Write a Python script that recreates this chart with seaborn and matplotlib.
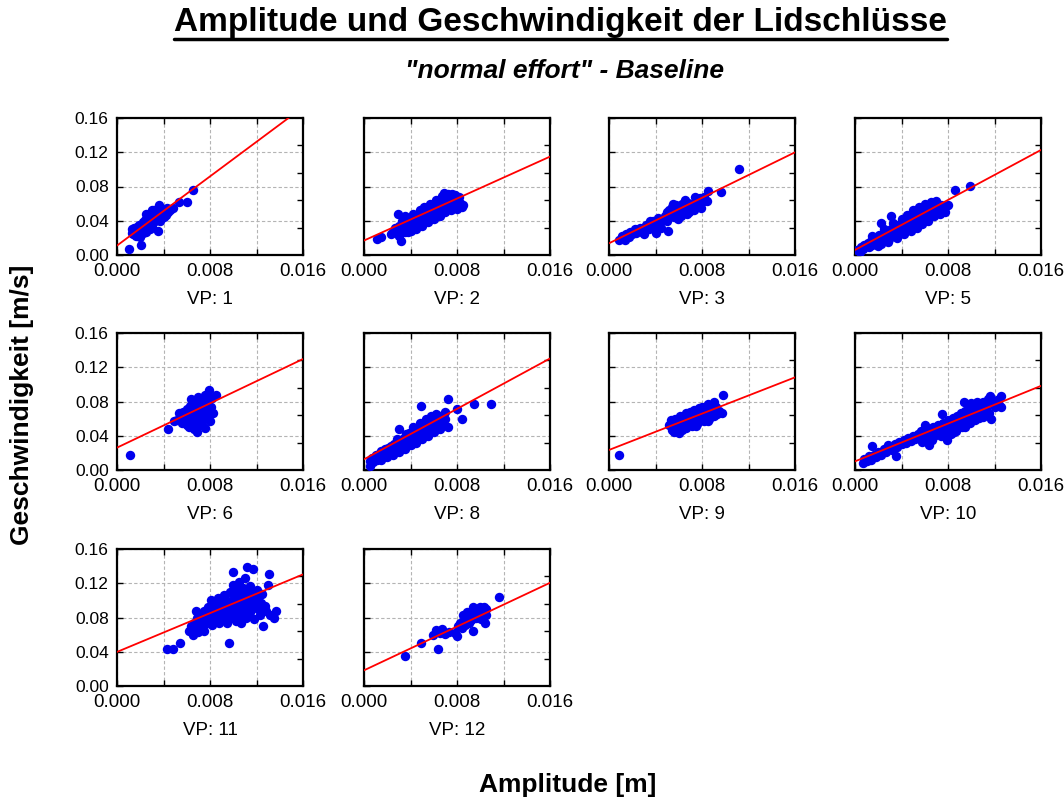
import numpy as np
import pandas as pd
import matplotlib
matplotlib.use("Agg")
import matplotlib.pyplot as plt
from matplotlib.lines import Line2D
import seaborn as sns

sns.set_theme(style="white")
plt.rcParams["font.family"] = ["Liberation Sans", "DejaVu Sans"]
plt.rcParams["text.color"] = "black"
plt.rcParams["axes.labelcolor"] = "black"
plt.rcParams["xtick.color"] = "black"
plt.rcParams["ytick.color"] = "black"

# ---- data: blink amplitude [m] and peak velocity [m/s] per subject (VP) ----
subjects = ["VP: 1", "VP: 2", "VP: 3", "VP: 5", "VP: 6",
            "VP: 8", "VP: 9", "VP: 10", "VP: 11", "VP: 12"]

vp1_amp = [0.0010, 0.0013, 0.0013, 0.0014, 0.0015, 0.0015, 0.0016, 0.0017, 0.0017, 0.0018,
           0.0019, 0.0019, 0.0020, 0.0020, 0.0021, 0.0021, 0.0022, 0.0022, 0.0023, 0.0024,
           0.0024, 0.0025, 0.0026, 0.0026, 0.0027, 0.0028, 0.0028, 0.0029, 0.0030, 0.0030,
           0.0031, 0.0032, 0.0033, 0.0034, 0.0035, 0.0035, 0.0036, 0.0036, 0.0037, 0.0038,
           0.0038, 0.0039, 0.0040, 0.0041, 0.0042, 0.0043, 0.0044, 0.0046, 0.0048, 0.0053,
           0.0060, 0.0065, 0.0025, 0.0032, 0.0030]
vp1_vel = [0.0075, 0.026, 0.030, 0.024, 0.028, 0.032, 0.022, 0.027, 0.033, 0.030,
           0.025, 0.035, 0.021, 0.029, 0.033, 0.012, 0.026, 0.038, 0.030, 0.035,
           0.041, 0.027, 0.032, 0.044, 0.038, 0.030, 0.048, 0.035, 0.042, 0.052,
           0.038, 0.045, 0.040, 0.048, 0.043, 0.0286, 0.050, 0.058, 0.040, 0.046,
           0.052, 0.054, 0.044, 0.050, 0.047, 0.055, 0.050, 0.053, 0.055, 0.062,
           0.062, 0.076, 0.048, 0.052, 0.033]

vp2_amp = [0.0011, 0.00145, 0.0023, 0.0025, 0.0027, 0.0029, 0.0029, 0.0030, 0.0032, 0.0032,
           0.0033, 0.0034, 0.0035, 0.0036, 0.0037, 0.0038, 0.0038, 0.0039, 0.0040, 0.0041,
           0.0042, 0.0043, 0.0044, 0.0045, 0.0046, 0.0047, 0.0048, 0.0049, 0.0050, 0.0051,
           0.0052, 0.0053, 0.0054, 0.0055, 0.0056, 0.0057, 0.0058, 0.0059, 0.0060, 0.0061,
           0.0062, 0.0063, 0.0064, 0.0065, 0.0066, 0.0067, 0.0068, 0.0069, 0.0069, 0.0070,
           0.0071, 0.0072, 0.0073, 0.0074, 0.0075, 0.0076, 0.0076, 0.0077, 0.0078, 0.0079,
           0.0080, 0.0081, 0.0083, 0.0085,
           0.0035, 0.0040, 0.0042, 0.0045, 0.0048, 0.0050, 0.0052, 0.0055, 0.0057, 0.0060,
           0.0062, 0.0065, 0.0067, 0.0070, 0.0072, 0.0075, 0.0078, 0.0080, 0.0082, 0.0084,
           0.0030, 0.0033]
vp2_vel = [0.019, 0.021, 0.025, 0.027, 0.031, 0.025, 0.048, 0.034, 0.029, 0.016,
           0.036, 0.032, 0.027, 0.038, 0.034, 0.040, 0.027, 0.031, 0.037, 0.042,
           0.035, 0.039, 0.045, 0.033, 0.041, 0.047, 0.038, 0.044, 0.050, 0.041,
           0.047, 0.053, 0.043, 0.050, 0.055, 0.046, 0.052, 0.058, 0.048, 0.055,
           0.060, 0.051, 0.057, 0.063, 0.053, 0.060, 0.066, 0.055, 0.072, 0.062,
           0.068, 0.058, 0.064, 0.069, 0.060, 0.066, 0.071, 0.057, 0.063, 0.068,
           0.059, 0.064, 0.061, 0.058,
           0.045, 0.028, 0.048, 0.030, 0.052, 0.034, 0.056, 0.038, 0.060, 0.042,
           0.064, 0.045, 0.069, 0.050, 0.071, 0.052, 0.070, 0.054, 0.068, 0.056,
           0.022, 0.040]

vp3_amp = [0.0009, 0.0011, 0.0013, 0.0014, 0.0015, 0.0017, 0.0018, 0.0020, 0.0022, 0.0023,
           0.0025, 0.0027, 0.0028, 0.0030, 0.0032, 0.0034, 0.0036, 0.0038, 0.0039, 0.0040,
           0.0040, 0.0042, 0.0044, 0.0046, 0.0048, 0.0050, 0.0051, 0.0052, 0.0053, 0.0054,
           0.0055, 0.0056, 0.0057, 0.0058, 0.0060, 0.0061, 0.0062, 0.0063, 0.0064, 0.0066,
           0.0067, 0.0068, 0.0070, 0.0072, 0.0073, 0.0075, 0.0076, 0.0078, 0.0080, 0.0082,
           0.0084, 0.0085, 0.0096, 0.0112,
           0.0055, 0.0059, 0.0065, 0.0069, 0.0074, 0.0079, 0.0045, 0.0050, 0.0035, 0.0030]
vp3_vel = [0.018, 0.022, 0.020, 0.017, 0.024, 0.021, 0.027, 0.025, 0.030, 0.026,
           0.029, 0.032, 0.027, 0.031, 0.035, 0.030, 0.034, 0.040, 0.033, 0.037,
           0.0255, 0.043, 0.038, 0.041, 0.046, 0.040, 0.0286, 0.052, 0.045, 0.056,
           0.049, 0.044, 0.053, 0.058, 0.050, 0.055, 0.046, 0.059, 0.053, 0.057,
           0.048, 0.061, 0.055, 0.060, 0.052, 0.064, 0.058, 0.066, 0.062, 0.068,
           0.063, 0.075, 0.073, 0.100,
           0.060, 0.042, 0.064, 0.050, 0.068, 0.055, 0.032, 0.050, 0.040, 0.025]

vp5_amp = [0.0002, 0.0004, 0.0005, 0.0007, 0.0008, 0.0010, 0.0011, 0.0012, 0.0014, 0.0015,
           0.0016, 0.0018, 0.0019, 0.0020, 0.0021, 0.0022, 0.0022, 0.0023, 0.0025, 0.0026,
           0.0027, 0.0028, 0.0029, 0.0030, 0.0031, 0.0031, 0.0032, 0.0033, 0.0034, 0.0035,
           0.0036, 0.0037, 0.0038, 0.0039, 0.0040, 0.0041, 0.0042, 0.0043, 0.0044, 0.0045,
           0.0046, 0.0047, 0.0048, 0.0049, 0.0050, 0.0051, 0.0052, 0.0053, 0.0054, 0.0055,
           0.0056, 0.0057, 0.0058, 0.0059, 0.0060, 0.0061, 0.0062, 0.0063, 0.0064, 0.0065,
           0.0066, 0.0067, 0.0068, 0.0069, 0.0070, 0.0072, 0.0074, 0.0076, 0.0078, 0.0086,
           0.0099,
           0.0015, 0.0020, 0.0025, 0.0028, 0.0033, 0.0036, 0.0040, 0.0042, 0.0045, 0.0048,
           0.0050, 0.0053, 0.0055, 0.0058, 0.0060, 0.0063, 0.0065, 0.0068, 0.0070, 0.0073,
           0.0075, 0.0080, 0.0077]
vp5_vel = [0.006, 0.004, 0.009, 0.007, 0.012, 0.010, 0.014, 0.009, 0.016, 0.012,
           0.018, 0.014, 0.020, 0.016, 0.023, 0.013, 0.037, 0.019, 0.024, 0.017,
           0.022, 0.027, 0.019, 0.025, 0.030, 0.046, 0.022, 0.028, 0.033, 0.024,
           0.030, 0.035, 0.027, 0.033, 0.038, 0.029, 0.035, 0.041, 0.032, 0.038,
           0.043, 0.034, 0.040, 0.046, 0.037, 0.043, 0.048, 0.039, 0.045, 0.050,
           0.042, 0.047, 0.053, 0.044, 0.050, 0.055, 0.047, 0.052, 0.057, 0.049,
           0.054, 0.059, 0.051, 0.056, 0.061, 0.053, 0.058, 0.055, 0.057, 0.076,
           0.081,
           0.022, 0.010, 0.030, 0.015, 0.037, 0.020, 0.042, 0.024, 0.047, 0.028,
           0.052, 0.032, 0.056, 0.036, 0.059, 0.040, 0.062, 0.045, 0.063, 0.048,
           0.052, 0.058, 0.050]

vp6_amp = [0.0011, 0.0044, 0.0049, 0.0052, 0.0053, 0.0055, 0.0056, 0.0057, 0.0058, 0.0059,
           0.0060, 0.0060, 0.0061, 0.0062, 0.0062, 0.0063, 0.0064, 0.0064, 0.0065, 0.0066,
           0.0066, 0.0067, 0.0068, 0.0068, 0.0069, 0.0069, 0.0070, 0.0070, 0.0071, 0.0072,
           0.0072, 0.0073, 0.0074, 0.0074, 0.0075, 0.0076, 0.0076, 0.0077, 0.0077, 0.0078,
           0.0079, 0.0079, 0.0080, 0.0081, 0.0082, 0.0083, 0.0085]
vp6_vel = [0.018, 0.048, 0.057, 0.058, 0.066, 0.061, 0.055, 0.068, 0.059, 0.064,
           0.052, 0.071, 0.060, 0.066, 0.050, 0.075, 0.057, 0.083, 0.069, 0.062,
           0.048, 0.073, 0.056, 0.079, 0.044, 0.066, 0.060, 0.085, 0.071, 0.053,
           0.077, 0.064, 0.082, 0.058, 0.070, 0.088, 0.049, 0.075, 0.062, 0.080,
           0.094, 0.068, 0.057, 0.073, 0.084, 0.066, 0.088]

vp8_amp = [0.0005, 0.0005, 0.0007, 0.0008, 0.0010, 0.0011, 0.0013, 0.0014, 0.0015, 0.0017,
           0.0018, 0.0019, 0.0021, 0.0022, 0.0023, 0.0025, 0.0026, 0.0027, 0.0029, 0.0030,
           0.0030, 0.0031, 0.0033, 0.0034, 0.0035, 0.0037, 0.0038, 0.0039, 0.0041, 0.0042,
           0.0043, 0.0045, 0.0046, 0.0047, 0.0049, 0.0049, 0.0050, 0.0051, 0.0053, 0.0054,
           0.0055, 0.0057, 0.0058, 0.0059, 0.0061, 0.0062, 0.0064, 0.0066, 0.0068, 0.0070,
           0.0072, 0.0080, 0.0084, 0.0095, 0.0109,
           0.0015, 0.0020, 0.0025, 0.0028, 0.0030, 0.0035, 0.0036, 0.0040, 0.0042, 0.0045,
           0.0048, 0.0050, 0.0053, 0.0055, 0.0058, 0.0060, 0.0062, 0.0065, 0.0068, 0.0070,
           0.0072]
vp8_vel = [0.005, 0.010, 0.014, 0.009, 0.017, 0.012, 0.019, 0.014, 0.022, 0.016,
           0.024, 0.018, 0.026, 0.020, 0.028, 0.022, 0.030, 0.024, 0.033, 0.026,
           0.048, 0.035, 0.029, 0.037, 0.031, 0.040, 0.033, 0.043, 0.036, 0.045,
           0.038, 0.047, 0.040, 0.050, 0.042, 0.075, 0.052, 0.045, 0.055, 0.047,
           0.057, 0.050, 0.059, 0.052, 0.061, 0.054, 0.063, 0.057, 0.064, 0.060,
           0.083, 0.071, 0.059, 0.077, 0.077,
           0.012, 0.015, 0.018, 0.036, 0.021, 0.025, 0.042, 0.029, 0.050, 0.032,
           0.055, 0.036, 0.059, 0.040, 0.063, 0.044, 0.065, 0.048, 0.053, 0.068,
           0.050]

vp9_amp = [0.0009, 0.0052, 0.0053, 0.0054, 0.0055, 0.0056, 0.0057, 0.0058, 0.0058, 0.0059,
           0.0060, 0.0060, 0.0061, 0.0062, 0.0063, 0.0063, 0.0064, 0.0065, 0.0066, 0.0066,
           0.0067, 0.0068, 0.0069, 0.0070, 0.0070, 0.0071, 0.0072, 0.0073, 0.0073, 0.0074,
           0.0075, 0.0076, 0.0077, 0.0077, 0.0078, 0.0079, 0.0080, 0.0080, 0.0081, 0.0082,
           0.0083, 0.0084, 0.0085, 0.0085, 0.0086, 0.0087, 0.0088, 0.0089, 0.0090, 0.0091,
           0.0092, 0.0093, 0.0095, 0.0097, 0.0098,
           0.0056, 0.0075, 0.0085, 0.0090]
vp9_vel = [0.018, 0.052, 0.058, 0.047, 0.055, 0.050, 0.060, 0.045, 0.054, 0.049,
           0.058, 0.043, 0.063, 0.052, 0.057, 0.047, 0.061, 0.054, 0.066, 0.049,
           0.059, 0.053, 0.064, 0.057, 0.068, 0.051, 0.062, 0.056, 0.070, 0.060,
           0.066, 0.054, 0.072, 0.063, 0.058, 0.068, 0.074, 0.061, 0.066, 0.057,
           0.071, 0.063, 0.077, 0.068, 0.060, 0.073, 0.066, 0.076, 0.063, 0.070,
           0.074, 0.065, 0.069, 0.066, 0.088,
           0.044, 0.051, 0.057, 0.080]

vp10_amp = [0.0007, 0.0008, 0.0010, 0.0012, 0.0014, 0.0015, 0.0016, 0.0018, 0.0020, 0.0022,
            0.0025, 0.0027, 0.0028, 0.0030, 0.0032, 0.0034, 0.0035, 0.0036, 0.0038, 0.0040,
            0.0042, 0.0044, 0.0046, 0.0048, 0.0050, 0.0052, 0.0054, 0.0055, 0.0057, 0.0058,
            0.0060, 0.0062, 0.0063, 0.0064, 0.0065, 0.0067, 0.0068, 0.0070, 0.0071, 0.0072,
            0.0074, 0.0075, 0.0076, 0.0077, 0.0078, 0.0079, 0.0080, 0.0081, 0.0082, 0.0083,
            0.0084, 0.0085, 0.0086, 0.0087, 0.0088, 0.0089, 0.0090, 0.0091, 0.0092, 0.0093,
            0.0094, 0.0094, 0.0095, 0.0096, 0.0097, 0.0098, 0.0099, 0.0100, 0.0101, 0.0102,
            0.0103, 0.0104, 0.0105, 0.0106, 0.0107, 0.0108, 0.0109, 0.0110, 0.0111, 0.0112,
            0.0113, 0.0114, 0.0115, 0.0116, 0.0117, 0.0118, 0.0120, 0.0122, 0.0124, 0.0126,
            0.0126,
            0.0060, 0.0066, 0.0074, 0.0085, 0.0095, 0.0100, 0.0110, 0.0105]
vp10_vel = [0.008, 0.013, 0.011, 0.016, 0.012, 0.028, 0.018, 0.015, 0.021, 0.018,
            0.024, 0.021, 0.029, 0.026, 0.023, 0.030, 0.016, 0.027, 0.033, 0.030,
            0.035, 0.031, 0.037, 0.034, 0.040, 0.036, 0.042, 0.038, 0.045, 0.033,
            0.041, 0.047, 0.038, 0.029, 0.044, 0.050, 0.040, 0.047, 0.053, 0.043,
            0.049, 0.065, 0.055, 0.045, 0.051, 0.035, 0.058, 0.048, 0.054, 0.042,
            0.061, 0.050, 0.056, 0.046, 0.063, 0.053, 0.059, 0.067, 0.050, 0.062,
            0.080, 0.056, 0.069, 0.060, 0.065, 0.072, 0.055, 0.068, 0.062, 0.075,
            0.058, 0.070, 0.066, 0.078, 0.061, 0.073, 0.068, 0.080, 0.064, 0.076,
            0.071, 0.083, 0.067, 0.086, 0.059, 0.078, 0.073, 0.082, 0.076, 0.087,
            0.073,
            0.052, 0.035, 0.040, 0.044, 0.050, 0.078, 0.062, 0.080]

vp11_amp = [0.0043, 0.0048, 0.0054, 0.0062, 0.0064, 0.0065, 0.0066, 0.0068, 0.0068, 0.0069,
            0.0070, 0.0071, 0.0072, 0.0073, 0.0074, 0.0075, 0.0075, 0.0076, 0.0077, 0.0078,
            0.0079, 0.0080, 0.0081, 0.0082, 0.0083, 0.0084, 0.0085, 0.0086, 0.0087, 0.0088,
            0.0088, 0.0089, 0.0090, 0.0091, 0.0092, 0.0092, 0.0093, 0.0094, 0.0095, 0.0095,
            0.0096, 0.0096, 0.0097, 0.0097, 0.0098, 0.0099, 0.0100, 0.0100, 0.0100, 0.0101,
            0.0102, 0.0102, 0.0103, 0.0104, 0.0104, 0.0105, 0.0105, 0.0106, 0.0107, 0.0107,
            0.0108, 0.0108, 0.0109, 0.0110, 0.0110, 0.0111, 0.0111, 0.0112, 0.0112, 0.0113,
            0.0114, 0.0114, 0.0115, 0.0116, 0.0117, 0.0117, 0.0118, 0.0119, 0.0120, 0.0121,
            0.0122, 0.0123, 0.0124, 0.0125, 0.0126, 0.0127, 0.0128, 0.0130, 0.0131, 0.0132,
            0.0135, 0.0137]
vp11_vel = [0.043, 0.043, 0.050, 0.064, 0.070, 0.060, 0.073, 0.067, 0.088, 0.079,
            0.063, 0.075, 0.083, 0.070, 0.078, 0.088, 0.064, 0.072, 0.081, 0.092,
            0.076, 0.085, 0.100, 0.071, 0.089, 0.079, 0.095, 0.083, 0.103, 0.074,
            0.091, 0.086, 0.098, 0.079, 0.106, 0.090, 0.084, 0.101, 0.073, 0.094,
            0.088, 0.050, 0.110, 0.080, 0.097, 0.091, 0.118, 0.085, 0.133, 0.103,
            0.076, 0.095, 0.112, 0.088, 0.100, 0.122, 0.081, 0.107, 0.094, 0.073,
            0.115, 0.099, 0.087, 0.126, 0.104, 0.092, 0.080, 0.111, 0.139, 0.098,
            0.117, 0.086, 0.103, 0.093, 0.108, 0.137, 0.078, 0.100, 0.112, 0.090,
            0.105, 0.083, 0.097, 0.108, 0.070, 0.093, 0.088, 0.118, 0.131, 0.083,
            0.079, 0.088]

vp12_amp = [0.0035, 0.0049, 0.0059, 0.0062, 0.0064, 0.0065, 0.0067, 0.0070, 0.0073, 0.0078,
            0.0080, 0.0081, 0.0083, 0.0084, 0.0085, 0.0086, 0.0087, 0.0088, 0.0089, 0.0090,
            0.0091, 0.0092, 0.0093, 0.0094, 0.0094, 0.0095, 0.0096, 0.0097, 0.0098, 0.0099,
            0.0100, 0.0101, 0.0102, 0.0103, 0.0104, 0.0105, 0.0105, 0.0116]
vp12_vel = [0.035, 0.050, 0.060, 0.065, 0.043, 0.062, 0.067, 0.061, 0.063, 0.062,
            0.058, 0.070, 0.073, 0.068, 0.083, 0.076, 0.071, 0.079, 0.086, 0.074,
            0.081, 0.077, 0.088, 0.092, 0.064, 0.084, 0.079, 0.090, 0.086, 0.082,
            0.092, 0.078, 0.088, 0.092, 0.073, 0.083, 0.090, 0.104]

# fitted regression lines (intercept [m/s], slope [1/s]) per subject
fit_intercept = [0.011, 0.0169, 0.0137, 0.0059, 0.0261, 0.0125, 0.0234, 0.0101, 0.0398, 0.0183]
fit_slope = [10.1, 6.125, 6.64, 7.3, 6.47, 7.36, 5.3, 5.51, 5.66, 6.39]

amplitudes = [vp1_amp, vp2_amp, vp3_amp, vp5_amp, vp6_amp,
              vp8_amp, vp9_amp, vp10_amp, vp11_amp, vp12_amp]
velocities = [vp1_vel, vp2_vel, vp3_vel, vp5_vel, vp6_vel,
              vp8_vel, vp9_vel, vp10_vel, vp11_vel, vp12_vel]

x_ticks = [0.000, 0.004, 0.008, 0.012, 0.016]
x_ticklabels = ["0.000", "", "0.008", "", "0.016"]
y_ticks = [0.00, 0.04, 0.08, 0.12, 0.16]
y_ticklabels = ["0.00", "0.04", "0.08", "0.12", "0.16"]

# ---- figure layout ----
W, H = 1064, 800
fig = plt.figure(figsize=(W / 100, H / 100), dpi=100)

col_left = [117, 364, 609, 855]
row_top = [118, 333, 549]
ax_w, ax_h = 186, 137

for i, name in enumerate(subjects):
    r, c = divmod(i, 4)
    ax = fig.add_axes([col_left[c] / W, 1 - (row_top[r] + ax_h) / H, ax_w / W, ax_h / H])
    df = pd.DataFrame({"amp": amplitudes[i], "vel": velocities[i]})
    sns.scatterplot(data=df, x="amp", y="vel", ax=ax, color="#0000ee",
                    s=46, linewidth=0, zorder=3)
    line_x = np.array([0.0, 0.016])
    line_df = pd.DataFrame({"amp": line_x, "vel": fit_intercept[i] + fit_slope[i] * line_x})
    sns.lineplot(data=line_df, x="amp", y="vel", ax=ax, color="#ff0000",
                 linewidth=1.3, zorder=4)

    ax.set_xlim(0, 0.016)
    ax.set_ylim(0, 0.16)
    ax.set_xticks(x_ticks)
    ax.set_xticklabels(x_ticklabels, fontsize=13.5)
    ax.set_yticks(y_ticks)
    if c == 0:
        ax.set_yticklabels(y_ticklabels, fontsize=12.5)
    else:
        ax.set_yticklabels([])
    ax.set_yticks([0.032, 0.064, 0.096, 0.128], minor=True)
    ax.tick_params(axis="both", which="major", direction="in", length=4, width=1,
                   top=True, right=False, bottom=True, left=True, pad=6)
    ax.tick_params(axis="y", which="minor", direction="in", length=4, width=1,
                   left=False, right=True)
    ax.grid(True, which="major", color="#b4b4b4", linestyle=(0, (3, 2)), linewidth=0.8)
    for sp in ax.spines.values():
        sp.set_visible(True)
        sp.set_color("black")
        sp.set_linewidth(1.6)
    ax.set_xlabel(name, fontsize=13.5, labelpad=8)
    ax.set_ylabel("")

# ---- titles and axis captions ----
title = fig.text(0.527, 0.972, "Amplitude und Geschwindigkeit der Lidschlüsse",
                 ha="center", va="center", fontsize=24, fontweight="bold")
fig.text(0.531, 0.911, "\"normal effort\" - Baseline", ha="center", va="center",
         fontsize=19, fontweight="bold", fontstyle="italic")
fig.text(0.021, 0.494, "Geschwindigkeit [m/s]", rotation=90, ha="center", va="center",
         fontsize=19, fontweight="bold")
fig.text(0.534, 0.019, "Amplitude [m]", ha="center", va="center",
         fontsize=19, fontweight="bold")

# underline for the main title
renderer = fig.canvas.get_renderer()
bb = title.get_window_extent(renderer=renderer)
y_ul = (bb.y0 - 1) / H
fig.add_artist(Line2D([bb.x0 / W, bb.x1 / W], [y_ul, y_ul], color="black",
                      linewidth=2.5, transform=fig.transFigure))

fig.savefig("out.png", dpi=100)
